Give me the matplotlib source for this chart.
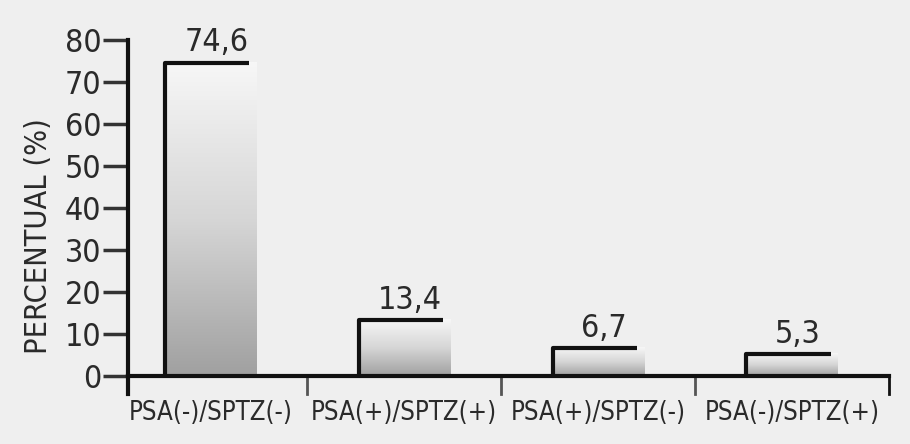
import numpy as np
import matplotlib
matplotlib.use("Agg")
import matplotlib.pyplot as plt
from matplotlib.colors import LinearSegmentedColormap

# data
categorias = ["PSA(-)/SPTZ(-)", "PSA(+)/SPTZ(+)", "PSA(+)/SPTZ(-)", "PSA(-)/SPTZ(+)"]
valores = [74.6, 13.4, 6.7, 5.3]
rotulos = ["74,6", "13,4", "6,7", "5,3"]
yticks = [0, 10, 20, 30, 40, 50, 60, 70, 80]

plt.rcParams['font.family'] = ['DejaVu Sans']
plt.rcParams['font.stretch'] = 'condensed'

fig = plt.figure(figsize=(9.1, 4.44), dpi=100)
fig.patch.set_facecolor("#efefef")
ax = fig.add_axes([128/910, 68/444, 761/910, 336/444])
ax.patch.set_alpha(0)

largura = 0.47
ax.set_xlim(-0.425, 3.5)
ax.set_ylim(0, 80)

cmap = LinearSegmentedColormap.from_list("g", ["#a0a0a0", "#d6d6d6", "#f7f7f7"])
grad = np.linspace(0, 1, 256).reshape(-1, 1)

for i, (v, r) in enumerate(zip(valores, rotulos)):
    x0 = i - largura / 2
    x1 = i + largura / 2
    ax.imshow(grad, extent=[x0, x1, 0, v], origin="lower", cmap=cmap,
              aspect="auto", zorder=2)
    ax.plot([x0, x0, x1 - 0.035], [0, v, v], color="#111111", lw=3,
            solid_capstyle="butt", zorder=3)
    ax.text(i + 0.03, v + 1.0, r, ha="center", va="bottom", fontsize=23,
            color="#2a2a2a")

for s in ["top", "right"]:
    ax.spines[s].set_visible(False)
for s in ["left", "bottom"]:
    ax.spines[s].set_linewidth(3)
    ax.spines[s].set_color("#111111")

# extension of y axis and category separators below the baseline
ax.plot([-0.425, -0.425], [0, -4.3], color="#111111", lw=3, clip_on=False)
for sep in [0.5, 1.5, 2.5, 3.5]:
    ax.plot([sep, sep], [0, -4.3], color="#555555" if sep < 3.5 else "#111111",
            lw=2, clip_on=False)

ax.set_yticks(yticks)
ax.set_yticklabels([str(t) for t in yticks], fontsize=23, color="#2a2a2a")
ax.tick_params(axis="y", direction="out", length=18, width=2.5, color="#333333", pad=1)
ax.set_xticks(range(len(categorias)))
ax.set_xticklabels(categorias, fontsize=18.5, color="#2a2a2a")
ax.tick_params(axis="x", length=0, pad=17)

ax.set_ylabel("PERCENTUAL (%)", fontsize=22, color="#2a2a2a")
ax.yaxis.set_label_coords(-0.098, 0.415)

fig.savefig("out.png", dpi=100, facecolor=fig.get_facecolor())
